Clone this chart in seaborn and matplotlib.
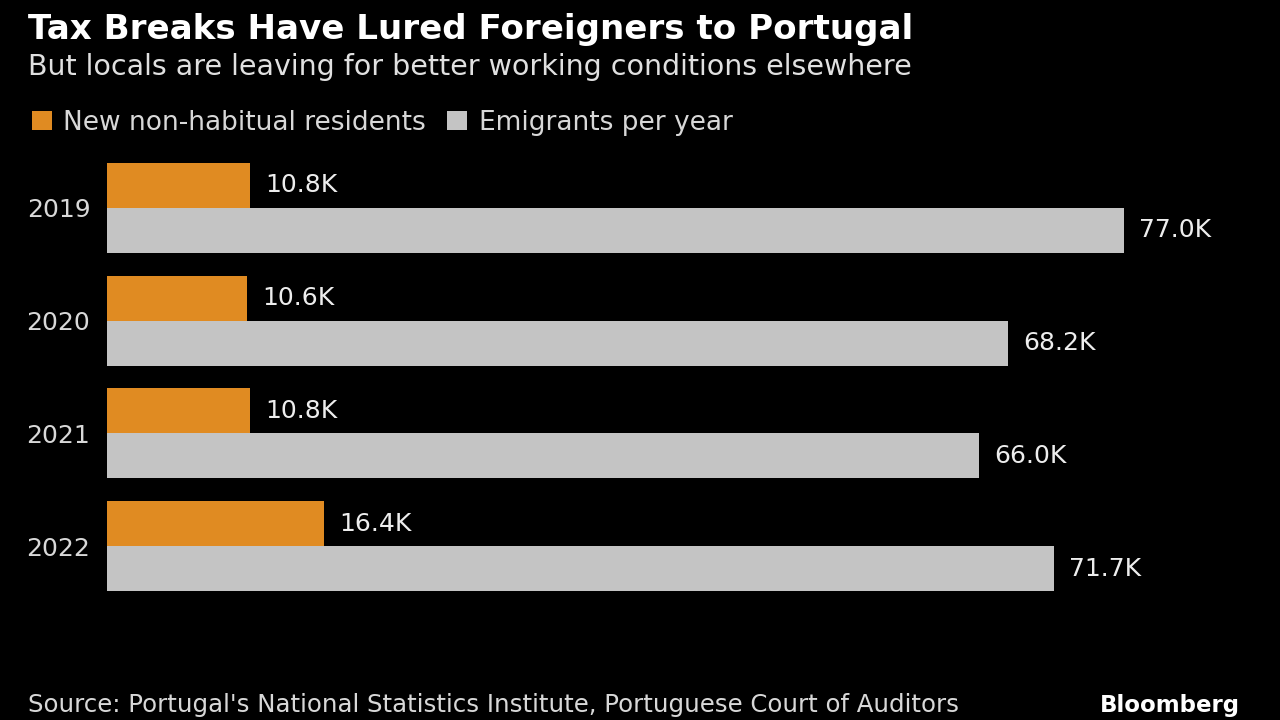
import matplotlib
matplotlib.use("Agg")
import matplotlib.pyplot as plt
import seaborn as sns
import pandas as pd

years = ["2019", "2020", "2021", "2022"]
nhr = [10.8, 10.6, 10.8, 16.4]
emigrants = [77.0, 68.2, 66.0, 71.7]
series_names = ["New non-habitual residents", "Emigrants per year"]
colors = ["#E08B22", "#C4C4C4"]

df = pd.DataFrame({
    "year": years * 2,
    "value": nhr + emigrants,
    "series": [series_names[0]] * 4 + [series_names[1]] * 4,
})

sns.set_style("dark")
plt.rcParams["font.family"] = ["DejaVu Sans"]

fig = plt.figure(figsize=(12.8, 7.2), dpi=100, facecolor="black")
ax = fig.add_axes([107 / 1280, 1 - 602.5 / 720, 1133 / 1280, 451 / 720])
ax.set_facecolor("black")

sns.barplot(data=df, x="value", y="year", hue="series", order=years,
            hue_order=series_names, palette=colors, orient="h",
            width=0.8, saturation=1, ax=ax, linewidth=0)

ax.set_xlim(0, 1133 / 13.21)
ax.set_ylim(3.5, -0.5)
for cont in ax.containers:
    ax.bar_label(cont, labels=[f"{v:.1f}K" for v in cont.datavalues],
                 padding=11, color="#EDEDED", fontsize=18)

ax.set_xlabel("")
ax.set_ylabel("")
ax.set_xticks([])
ax.tick_params(axis="y", length=0, labelsize=18, labelcolor="#D8D8D8", pad=12)
for s in ax.spines.values():
    s.set_visible(False)
ax.grid(False)

ax.legend(loc="upper left", bbox_to_anchor=(8 / 1280, 1 - 86 / 720),
          bbox_transform=fig.transFigure, ncol=2, frameon=False,
          handlelength=0.75, handleheight=0.75, handletextpad=0.45,
          columnspacing=0.8, fontsize=19, labelcolor="#D8D8D8")

fig.text(28 / 1280, 1 - 39 / 720, "Tax Breaks Have Lured Foreigners to Portugal",
         color="white", fontsize=24.6, fontweight="bold")
fig.text(28 / 1280, 1 - 75 / 720,
         "But locals are leaving for better working conditions elsewhere",
         color="#E0E0E0", fontsize=20.5)
fig.text(28 / 1280, 3 / 720,
         "Source: Portugal's National Statistics Institute, Portuguese Court of Auditors",
         color="#D8D8D8", fontsize=17.6, va="bottom")
fig.text(1240 / 1280, 3 / 720, "Bloomberg", color="white",
         fontsize=16.5, fontweight="bold", ha="right", va="bottom")

fig.savefig("out.png", dpi=100, facecolor="black")
